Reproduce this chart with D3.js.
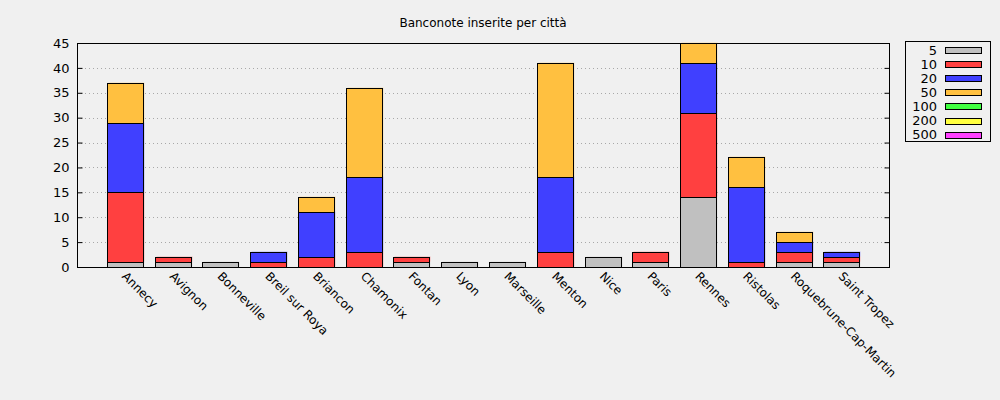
<!DOCTYPE html>
<html><head><meta charset="utf-8">
<script src="https://cdn.jsdelivr.net/npm/d3@7"></script>
<style>body{margin:0;background:#f0f0f0}svg{display:block;font-family:"DejaVu Sans",sans-serif}</style>
</head><body><svg id="c" width="1000" height="400"></svg>
<script>
const title = "Banconote inserite per città";
const cities = ["Annecy","Avignon","Bonneville","Breil sur Roya","Briancon","Chamonix","Fontan","Lyon","Marseille","Menton","Nice","Paris","Rennes","Ristolas","Roquebrune-Cap-Martin","Saint Tropez"];
const seriesNames = ["5","10","20","50","100","200","500"];
const seriesColors = ["#c0c0c0","#ff4040","#4040ff","#ffc040","#40ff40","#ffff40","#ff40ff"];
const v5   = [1,1,1,0,0,0,1,1,1,0,2,1,14,0,1,1];
const v10  = [14,1,0,1,2,3,1,0,0,3,0,2,17,1,2,1];
const v20  = [14,0,0,2,9,15,0,0,0,15,0,0,10,15,2,1];
const v50  = [8,0,0,0,3,18,0,0,0,23,0,0,4,6,2,0];
const v100 = [0,0,0,0,0,0,0,0,0,0,0,0,0,0,0,0];
const v200 = [0,0,0,0,0,0,0,0,0,0,0,0,0,0,0,0];
const v500 = [0,0,0,0,0,0,0,0,0,0,0,0,0,0,0,0];
const yTicks = [0,5,10,15,20,25,30,35,40,45];

const svg = d3.select("#c");
const L=77,R=889,T=43,B=267;
const x = d3.scaleLinear().domain([-1,cities.length]).range([L,R]);
const y = d3.scaleLinear().domain([0,45]).range([B,T]);
const bw = (x(1)-x(0))*0.75;

svg.append("text").attr("x",(L+R)/2).attr("y",27).attr("text-anchor","middle").attr("font-size",12).text(title);

// grid
svg.append("g").selectAll("line").data(yTicks.slice(1,-1)).join("line")
  .attr("x1",L).attr("x2",R).attr("y1",d=>Math.round(y(d))+0.5).attr("y2",d=>Math.round(y(d))+0.5)
  .attr("stroke","#a8a8a8").attr("stroke-dasharray","1,3");

const table = cities.map((c,i)=>({city:c,i,"5":v5[i],"10":v10[i],"20":v20[i],"50":v50[i],"100":v100[i],"200":v200[i],"500":v500[i]}));
const stacked = d3.stack().keys(seriesNames)(table);

const g = svg.append("g");
stacked.forEach((s,k)=>{
  const segs = s.filter(d=>d[1]-d[0]>0);
  g.selectAll(null).data(segs).join("rect")
    .attr("x",d=>Math.round(x(d.data.i)-bw/2)+1.5).attr("y",d=>Math.round(y(d[1]))-0.5)
    .attr("width",Math.round(bw)).attr("height",d=>Math.round(y(d[0]))-Math.round(y(d[1])))
    .attr("fill",seriesColors[k]).attr("opacity",0.35);
});
stacked.forEach((s,k)=>{
  const segs = s.filter(d=>d[1]-d[0]>0);
  g.selectAll(null).data(segs).join("rect")
    .attr("x",d=>Math.round(x(d.data.i)-bw/2)+0.5).attr("y",d=>Math.round(y(Math.min(d[1],45)))+0.5)
    .attr("width",Math.round(bw)).attr("height",d=>Math.round(y(d[0]))-Math.round(y(Math.min(d[1],45))))
    .attr("fill",seriesColors[k]).attr("stroke","#000").attr("stroke-width",1);
});

// frame
svg.append("rect").attr("x",L+0.5).attr("y",T+0.5).attr("width",R-L).attr("height",B-T)
  .attr("fill","none").attr("stroke","#000");

// y axis
const ya = svg.append("g").attr("transform",`translate(${L+0.5},0)`)
  .call(d3.axisLeft(y).tickValues(yTicks).tickSize(-5).tickPadding(8));
ya.select(".domain").remove();
ya.selectAll("text").attr("font-size",13).attr("font-family","DejaVu Sans").attr("fill","#000");
const yb = svg.append("g").attr("transform",`translate(${R+0.5},0)`)
  .call(d3.axisRight(y).tickValues(yTicks).tickSize(-5).tickFormat(""));
yb.select(".domain").remove();

// x labels
const xa = svg.append("g").attr("transform",`translate(0,${B})`)
  .call(d3.axisBottom(x).tickValues(d3.range(cities.length)).tickFormat(i=>cities[i]).tickSize(0));
xa.select(".domain").remove();
xa.selectAll("text").attr("font-size",12).attr("font-family","DejaVu Sans").attr("fill","#000")
  .attr("text-anchor","start").attr("dy",null).attr("y",0)
  .attr("transform","translate(-4,10) rotate(45)");

// legend
const lg = svg.append("g");
lg.append("rect").attr("x",905.5).attr("y",41.5).attr("width",85).attr("height",100)
  .attr("fill","#f0f0f0").attr("stroke","#000");
seriesNames.forEach((n,k)=>{
  const cy = 50+k*14.1;
  lg.append("text").attr("x",937).attr("y",cy+4.5).attr("text-anchor","end").attr("font-size",13).text(n);
  lg.append("rect").attr("x",945.5).attr("y",Math.round(cy-3)+0.5).attr("width",36).attr("height",6)
    .attr("fill",seriesColors[k]).attr("stroke","#000");
});
</script></body></html>
